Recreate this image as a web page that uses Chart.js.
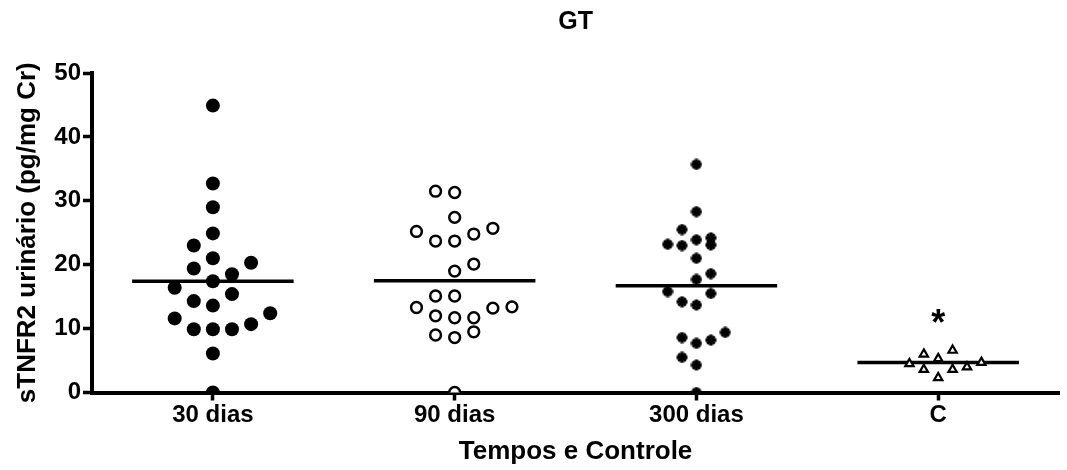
<!DOCTYPE html>
<html>
<head>
<meta charset="utf-8">
<script src="https://cdn.jsdelivr.net/npm/chart.js@4.4.0/dist/chart.umd.min.js"></script>
<style>
  html, body { margin: 0; padding: 0; background: #fff; }
  #box { width: 1067px; height: 470px; }
</style>
</head>
<body>
<div id="box"><canvas id="grafico"></canvas></div>
<script>
// Dados (sTNFR2 urinário, pg/mg Cr)
const categorias = ['30 dias', '90 dias', '300 dias', 'C'];
const dias30 = [0, 6.1, 9.9, 9.9, 9.9, 10.7, 11.6, 12.4, 13.6, 14.3, 15.4, 16.4, 17.4, 18.5, 19.4, 20.3, 21.0, 23.0, 24.9, 29.0, 32.7, 44.9];
const dias90 = [0, 8.6, 9.0, 9.5, 11.7, 11.7, 12.0, 13.2, 13.3, 13.4, 15.1, 15.1, 19.0, 20.1, 23.7, 23.7, 24.8, 25.2, 25.7, 27.4, 31.3, 31.5];
const dias300 = [0, 4.3, 5.5, 7.7, 8.2, 8.6, 9.4, 13.7, 14.2, 15.5, 15.8, 17.7, 18.6, 21.0, 23.0, 23.1, 23.2, 23.9, 24.2, 25.5, 28.3, 35.7];
const controle = [2.3, 3.6, 3.6, 4.0, 4.5, 4.7, 5.3, 6.0, 6.6];
const medias = [17.4, 17.5, 16.7, 4.7];
const marcas = ['', '', '', '*'];
const yTicks = [0, 10, 20, 30, 40, 50];

const FONTE = "'Liberation Sans', Arial, sans-serif";
const grupos = [dias30, dias90, dias300, controle];

// marcador do grupo 300 dias (asterisco cheio)
function asterisco() {
  const c = document.createElement('canvas');
  c.width = 12; c.height = 12;
  const g = c.getContext('2d');
  g.strokeStyle = '#000';
  g.lineWidth = 3.4;
  g.beginPath();
  g.moveTo(6, 0.5); g.lineTo(6, 11.5);
  g.moveTo(0.5, 6); g.lineTo(11.5, 6);
  g.stroke();
  g.lineWidth = 3;
  g.beginPath();
  g.moveTo(2.3, 2.3); g.lineTo(9.7, 9.7);
  g.moveTo(9.7, 2.3); g.lineTo(2.3, 9.7);
  g.stroke();
  return c;
}

const estilos = [
  { ponto: 'circle', raio: 7, fundo: '#000', borda: 0, passo: 0.079, faixa: 3 },
  { ponto: 'circle', raio: 5.4, fundo: '#fff', borda: 2.5, passo: 0.079, faixa: 3 },
  { ponto: asterisco(), raio: 5, fundo: '#000', borda: 0, passo: 0.0595, faixa: 2.6 },
  { ponto: 'triangle', raio: 4.8, fundo: '#fff', borda: 2.2, passo: 0.0595, faixa: 2.6 }
];

// espalha os pontos lado a lado (tipo scatter dot plot do Prism)
function espalhar(valores, altura) {
  const ordem = valores.map((v, i) => i).sort((a, b) => valores[a] - valores[b]);
  const pos = new Array(valores.length);
  let inicio = null, k = 0, bloco = -1;
  ordem.forEach(i => {
    const v = valores[i];
    if (inicio === null || v - inicio >= altura) { inicio = v; k = 0; bloco++; }
    const s = bloco % 2 === 0 ? 1 : -1;
    pos[i] = k === 0 ? 0 : (k % 2 ? s * Math.ceil(k / 2) : -s * k / 2);
    k++;
  });
  return pos;
}

const datasets = [];
grupos.forEach((vals, g) => {
  const e = estilos[g];
  const pos = espalhar(vals, e.faixa);
  datasets.push({
    type: 'scatter',
    data: vals.map((v, i) => ({ x: g + pos[i] * e.passo, y: v })),
    pointStyle: e.ponto,
    pointRadius: e.raio,
    pointBackgroundColor: e.fundo,
    pointBorderColor: '#000',
    pointBorderWidth: e.borda,
    clip: 0,
    order: 0
  });
  datasets.push({
    type: 'line',
    data: [{ x: g - 0.334, y: medias[g] }, { x: g + 0.334, y: medias[g] }],
    borderColor: '#000',
    borderWidth: 3.5,
    pointRadius: 0,
    order: 10
  });
});

// asterisco de significância acima do grupo
const marcaPlugin = {
  id: 'marca',
  afterDatasetsDraw(chart) {
    const { ctx, scales } = chart;
    ctx.save();
    ctx.fillStyle = '#000';
    ctx.font = 'bold 36px ' + FONTE;
    ctx.textAlign = 'center';
    ctx.textBaseline = 'alphabetic';
    marcas.forEach((m, g) => {
      if (!m) return;
      const x = scales.x.getPixelForValue(g);
      const y = scales.y.getPixelForValue(Math.max(...grupos[g])) - 15;
      ctx.fillText(m, x, y);
    });
    ctx.restore();
  }
};

const fonteEixo = { family: FONTE, size: 24, weight: 'bold' };

new Chart(document.getElementById('grafico'), {
  type: 'scatter',
  data: { datasets },
  options: {
    responsive: true,
    maintainAspectRatio: false,
    animation: false,
    layout: { padding: { left: 0, right: 4, top: 0, bottom: 0 } },
    plugins: {
      legend: { display: false },
      tooltip: { enabled: false },
      title: {
        display: true,
        text: 'GT',
        fullSize: false,
        color: '#000',
        font: { family: FONTE, size: 25, weight: 'bold' },
        padding: { top: 7, bottom: 36 }
      }
    },
    scales: {
      x: {
        type: 'linear',
        min: -0.5,
        max: 3.5,
        z: 1,
        afterBuildTicks: s => { s.ticks = categorias.map((c, i) => ({ value: i })); },
        afterFit: s => { s.height = 77.5; },
        ticks: {
          callback: v => categorias[v],
          color: '#000',
          font: fonteEixo,
          padding: 0,
          maxRotation: 0,
          autoSkip: false
        },
        grid: { drawOnChartArea: false, tickLength: 8, tickWidth: 3.5, tickColor: '#000' },
        border: { color: '#000', width: 4 },
        title: {
          display: true,
          text: 'Tempos e Controle',
          color: '#000',
          font: { family: FONTE, size: 26, weight: 'bold' },
          padding: { top: 0, bottom: 3 }
        }
      },
      y: {
        min: 0,
        max: 50,
        z: 1,
        afterBuildTicks: s => { s.ticks = yTicks.map(v => ({ value: v })); },
        afterFit: s => { s.width = 92; },
        ticks: { color: '#000', font: fonteEixo, padding: 2 },
        grid: { drawOnChartArea: false, tickLength: 9, tickWidth: 3.5, tickColor: '#000' },
        border: { color: '#000', width: 4 },
        title: {
          display: true,
          text: 'sTNFR2 urinário (pg/mg Cr)',
          color: '#000',
          font: { family: FONTE, size: 26, weight: 'bold' },
          padding: { top: 12, bottom: 0 }
        }
      }
    }
  },
  plugins: [marcaPlugin]
});
</script>
</body>
</html>
